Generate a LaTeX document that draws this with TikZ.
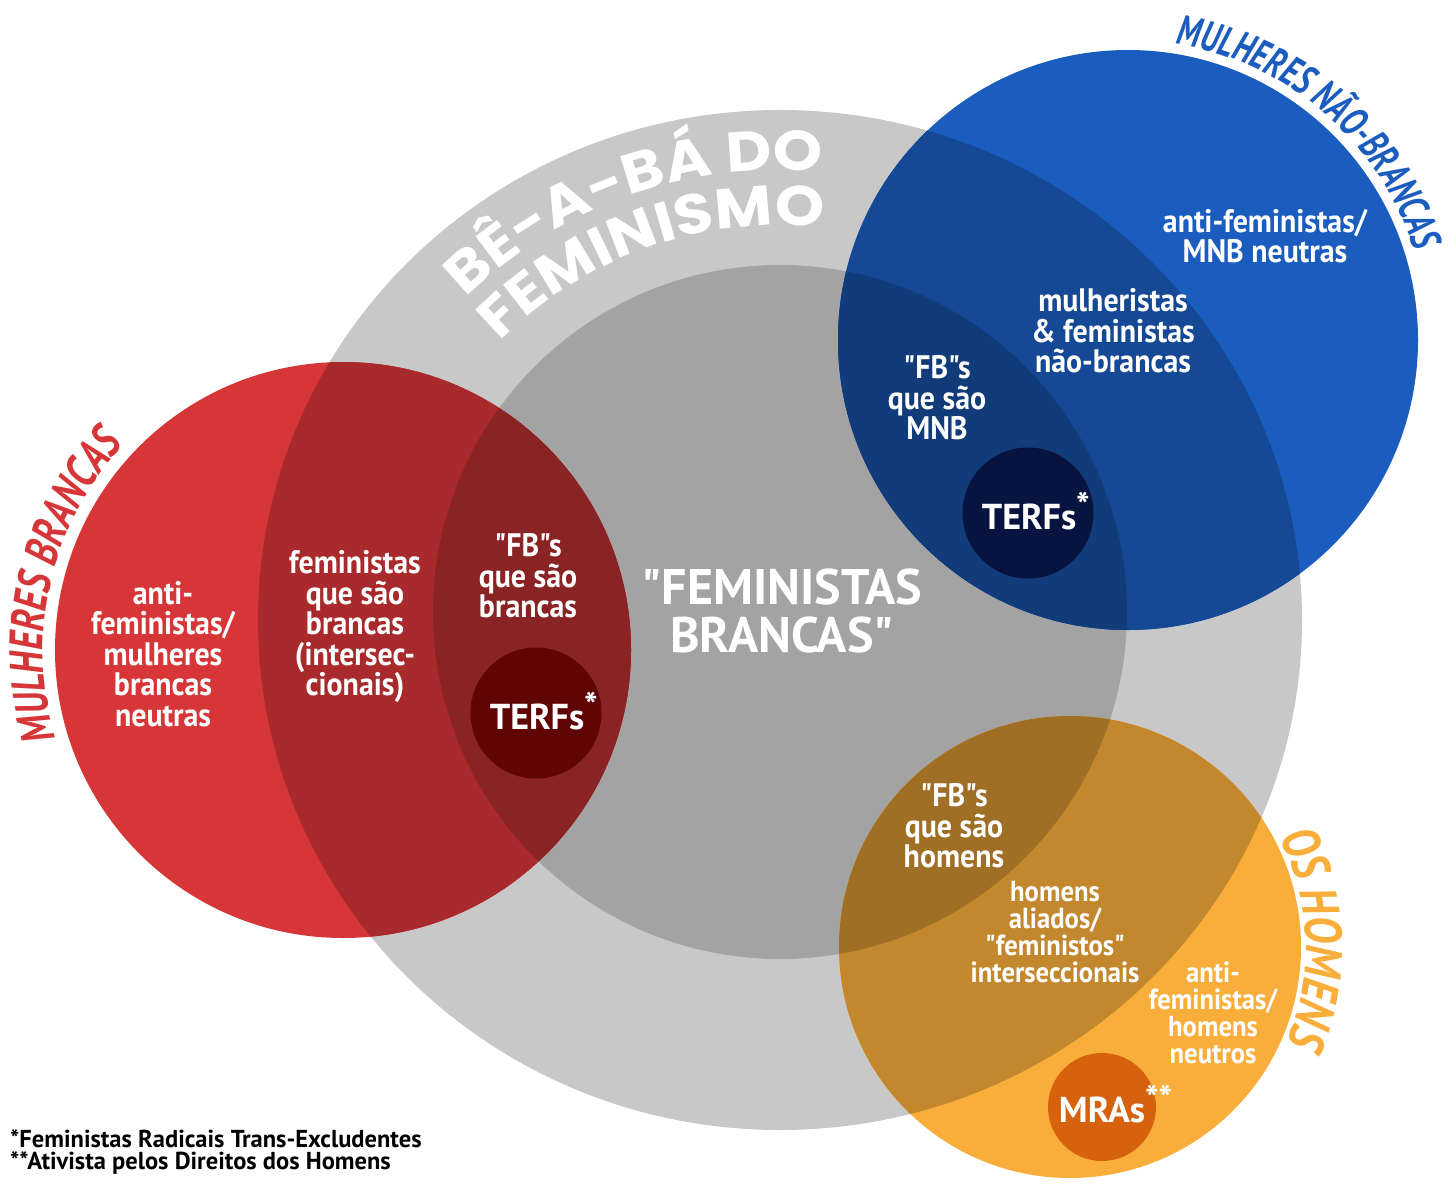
\documentclass[tikz,border=0pt]{standalone}
\usepackage{fontspec}
\usetikzlibrary{decorations.text}
\newfontfamily\dinfont{PT Sans}[FakeStretch=0.92]
\newfontfamily\dinwide{PT Sans}
\newfontfamily\condfont{PT Sans}[FakeStretch=0.72]
\newfontfamily\redtfont{PT Sans}[FakeStretch=0.76]
\newfontfamily\ortfont{PT Sans}[FakeStretch=0.80]
\newfontfamily\geofont{Poppins}[FakeStretch=1.12]
\newcommand\titlefont{\condfont\bfseries\itshape\fontsize{42}{42}\selectfont}
\newcommand\redtitlefont{\redtfont\bfseries\itshape\fontsize{47}{47}\selectfont}
\newcommand\ortitlefont{\ortfont\bfseries\itshape\fontsize{52}{52}\selectfont}
\newcommand\beafont{\geofont\bfseries\fontsize{56}{56}\selectfont}
\newcommand\myast{\rlap{\raisebox{0.3em}{*}}}
\newcommand\myastast{\rlap{\raisebox{0.3em}{**}}}
\definecolor{lgray}{HTML}{C8C8C8}
\definecolor{dgray}{HTML}{A3A3A3}
\definecolor{redc}{RGB}{214,54,56}
\definecolor{redg}{RGB}{168,42,44}
\definecolor{redd}{RGB}{137,35,36}
\definecolor{bluec}{RGB}{27,93,190}
\definecolor{blueg}{RGB}{21,73,149}
\definecolor{blued}{RGB}{17,59,121}
\definecolor{orc}{RGB}{249,174,59}
\definecolor{org}{RGB}{195,136,46}
\definecolor{ord}{RGB}{159,111,38}
\definecolor{terfred}{RGB}{96,5,6}
\definecolor{terfblue}{RGB}{6,20,63}
\definecolor{mrac}{RGB}{215,98,14}
\begin{document}
\begin{tikzpicture}[x=1pt,y=1pt,
  lbl/.style={text=white, align=center, inner sep=0pt,
    font=\dinfont\bfseries\fontsize{32.5}{30.5}\selectfont},
  lblsmall/.style={lbl, font=\dinfont\bfseries\fontsize{29}{27}\selectfont},
  lblbig/.style={lbl, font=\dinwide\bfseries\fontsize{50}{48}\selectfont},
  lblcirc/.style={lbl, font=\dinwide\bfseries\fontsize{36}{36}\selectfont},
  foot/.style={anchor=west, inner sep=0pt, text=black,
    font=\dinwide\bfseries\fontsize{24.5}{24}\selectfont}]
\useasboundingbox (0,0) rectangle (1456,-1185);
\fill[white] (0,0) rectangle (1456,-1185);
% gray areas
\fill[lgray] (780,-620) ellipse [x radius=522, y radius=510];
\fill[dgray] (780,-612) circle [radius=347];
% red circle
\fill[redc] (343,-650) circle [radius=288];
\begin{scope}
  \clip (343,-650) circle [radius=288];
  \fill[redg] (780,-620) ellipse [x radius=522, y radius=510];
  \fill[redd] (780,-612) circle [radius=347];
\end{scope}
% blue circle
\fill[bluec] (1128,-340) circle [radius=290];
\begin{scope}
  \clip (1128,-340) circle [radius=290];
  \fill[blueg] (780,-620) ellipse [x radius=522, y radius=510];
  \fill[blued] (780,-612) circle [radius=347];
\end{scope}
% orange circle
\fill[orc] (1070,-947) circle [radius=231];
\begin{scope}
  \clip (1070,-947) circle [radius=231];
  \fill[org] (780,-620) ellipse [x radius=522, y radius=510];
  \fill[ord] (780,-612) circle [radius=347];
\end{scope}
% small circles
\fill[terfred] (536,-713) circle [radius=65.5];
\fill[terfblue] (1028,-513) circle [radius=65.5];
\fill[mrac] (1102,-1107) circle [radius=54];
% curved titles
\path[decorate, decoration={text along path, text color=white, text align=center,
  text={|\beafont|BÊ-A-BÁ DO}}]
  ([shift={(158.5:450)}]780,-620) arc [start angle=158.5, end angle=60.5, radius=450];
\path[decorate, decoration={text along path, text color=white, text align=center,
  text={|\beafont|FEMINISMO}}]
  ([shift={(158.5:395)}]780,-620) arc [start angle=158.5, end angle=60.5, radius=395];
\path[decorate, decoration={text along path, text color=redc, text align=center,
  text={|\redtitlefont|MULHERES BRANCAS}}]
  ([shift={(225:300)}]343,-650) arc [start angle=225, end angle=109, radius=300];
\path[decorate, decoration={text along path, text color=bluec, text align=center,
  text={|\titlefont|MULHERES NÃO-BRANCAS}}]
  ([shift={(100:300)}]1128,-340) arc [start angle=100, end angle=-2, radius=300];
\path[decorate, decoration={text along path, text color=orc, text align=center,
  text={|\ortitlefont|OS HOMENS}}]
  ([shift={(50:236)}]1070,-947) arc [start angle=50, end angle=-46, radius=236];
% labels
\node[lbl] (rA) at (163,-654) {anti-\\feministas/\\mulheres\\brancas\\neutras};
\node[lbl] (rB) at (355,-627) {feministas\\que são\\brancas\\(intersec-\\cionais)};
\node[lbl] (rC) at (528,-576) {"FB"s\\que são\\brancas};
\node[lblcirc] (rT) at (537,-711) {TERFs\myast};
\node[lblbig] (fb) at (782,-611) {"FEMINISTAS\\BRANCAS"};
\node[lbl] (bA) at (1265,-236) {anti-feministas/\\MNB neutras};
\node[lbl] (bB) at (1113,-331) {mulheristas\\\& feministas\\não-brancas};
\node[lbl] (bC) at (937,-398) {"FB"s\\que são\\MNB};
\node[lblcirc] (bT) at (1029,-511) {TERFs\myast};
\node[lbl] (oA) at (954,-826) {"FB"s\\que são\\homens};
\node[lblsmall] (oB) at (1055,-932) {homens\\aliados/\\"feministos"\\interseccionais};
\node[lblsmall] (oC) at (1213,-1013) {anti-\\feministas/\\homens\\neutros};
\node[lblcirc] (oM) at (1102,-1104) {MRAs\myastast};
\node[foot] (fn1) at (10,-1139) {*Feministas Radicais Trans-Excludentes};
\node[foot] (fn2) at (10,-1163) {**Ativista pelos Direitos dos Homens};
\end{tikzpicture}
\end{document}
